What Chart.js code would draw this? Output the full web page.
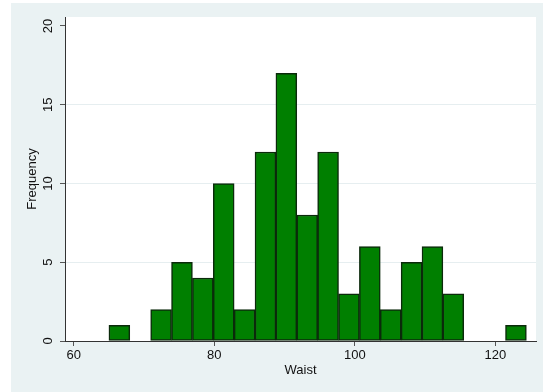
<!DOCTYPE html>
<html>
<head>
<meta charset="utf-8">
<title>Waist histogram</title>
<script src="https://cdn.jsdelivr.net/npm/chart.js@4/dist/chart.umd.min.js"></script>
<style>
  html, body { margin: 0; padding: 0; background: #fff; }
  canvas { display: block; }
</style>
</head>
<body>
<canvas id="hist" width="543" height="392"></canvas>
<script>
// Histogram bins (Waist)
const binStart = 65.0;
const binWidth = 2.97;
const counts = [1, 0, 2, 5, 4, 10, 2, 12, 17, 8, 12, 3, 6, 2, 5, 6, 3, 0, 0, 1];

const xTicks = [60, 80, 100, 120];
const yTicks = [0, 5, 10, 15, 20];

const FONT = "'Liberation Sans', Arial, Helvetica, sans-serif";

// Stata-like backdrop: light blue-grey graph region, white plot region
const backdrop = {
  id: 'backdrop',
  beforeDraw(chart) {
    const { ctx, chartArea } = chart;
    ctx.save();
    ctx.fillStyle = '#EAF2F3';
    ctx.fillRect(11, 3, chart.width - 11, chart.height - 3);
    ctx.fillStyle = '#FFFFFF';
    ctx.fillRect(chartArea.left, chartArea.top,
      chartArea.right - chartArea.left, chartArea.bottom - chartArea.top);
    ctx.restore();
  },
};

const bars = counts
  .map((c, i) => ({ x: binStart + (i + 0.5) * binWidth, y: c }))
  .filter((p) => p.y > 0);

new Chart(document.getElementById('hist'), {
  type: 'bar',
  data: {
    datasets: [{
      label: 'Frequency',
      data: bars,
      backgroundColor: '#007F00',
      borderColor: '#0B2A0B',
      borderWidth: 1.5,
      borderSkipped: false,
      barPercentage: 1,
      categoryPercentage: 1,
    }],
  },
  plugins: [backdrop],
  options: {
    responsive: false,
    animation: false,
    devicePixelRatio: 1,
    layout: { padding: { left: 0, top: 17, right: 7, bottom: 0 } },
    plugins: {
      legend: { display: false },
      tooltip: { enabled: false },
    },
    scales: {
      x: {
        type: 'linear',
        offset: false,
        min: 58.75,
        max: 125.77,
        afterFit: (s) => { s.height = 51; },
        afterBuildTicks: (s) => { s.ticks = xTicks.map((v) => ({ value: v })); },
        ticks: {
          includeBounds: false,
          stepSize: 20,
          maxRotation: 0,
          padding: 2,
          color: '#111',
          font: { family: FONT, size: 13 },
        },
        grid: {
          offset: false,
          drawOnChartArea: false,
          drawTicks: true,
          tickLength: 5,
          tickColor: '#555',
        },
        border: { display: true, color: '#333', width: 1 },
        title: {
          display: true,
          text: 'Waist',
          color: '#111',
          font: { family: FONT, size: 13 },
          padding: { top: 0, bottom: 14 },
        },
      },
      y: {
        min: 0,
        max: 20.57,
        afterFit: (s) => { s.width = 65; },
        afterBuildTicks: (s) => { s.ticks = yTicks.map((v) => ({ value: v })); },
        ticks: {
          includeBounds: false,
          stepSize: 5,
          minRotation: 90,
          maxRotation: 90,
          crossAlign: 'center',
          padding: 4,
          color: '#111',
          font: { family: FONT, size: 13 },
        },
        grid: {
          drawTicks: true,
          tickLength: 5,
          tickColor: '#555',
          color: (c) => (c.tick && c.tick.value > 0 && c.tick.value < 20 ? '#E6EEF0' : 'rgba(0,0,0,0)'),
        },
        border: { display: true, color: '#333', width: 1 },
        title: {
          display: true,
          text: 'Frequency',
          color: '#111',
          font: { family: FONT, size: 13 },
          padding: { top: 25, bottom: 0 },
        },
      },
    },
  },
});
</script>
</body>
</html>
